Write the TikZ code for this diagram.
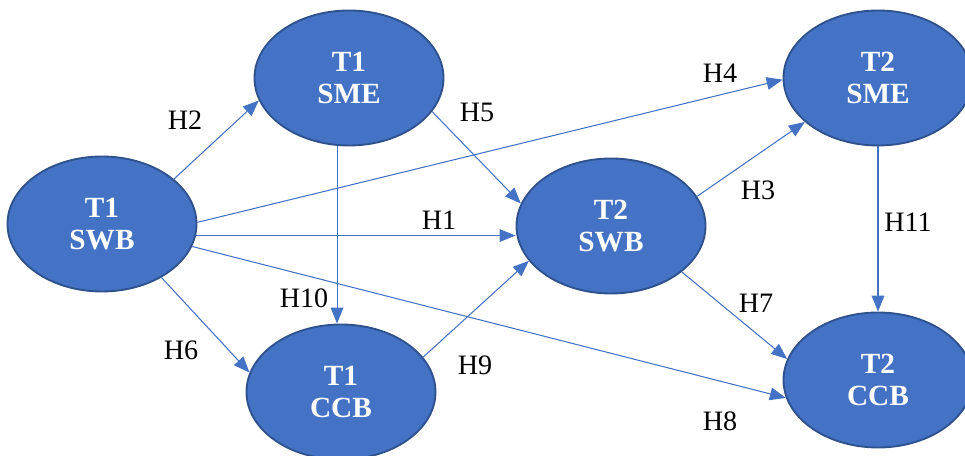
\documentclass[tikz,border=0pt]{standalone}
\usepackage{fontspec}
\setmainfont{Liberation Serif}
\usetikzlibrary{arrows.meta,shapes.geometric}

\definecolor{ofblue}{HTML}{4472C4}
\definecolor{ofedge}{HTML}{2F528F}

\tikzset{
  construct/.style={ellipse, draw=ofedge, line width=1.6pt, fill=ofblue,
    text=white, align=center, inner sep=0pt,
    minimum width=5.67cm, minimum height=4.05cm,
    font=\fontsize{25}{28}\selectfont\bfseries},
  hyp/.style={draw=ofblue, line width=0.9pt,
    -{Triangle[length=0.48cm,width=0.38cm]}},
  hlabel/.style={font=\fontsize{24}{28}\selectfont}
}

\begin{document}
\begin{tikzpicture}[x=0.03cm, y=0.03cm]
    \useasboundingbox (0,0) rectangle (965,456);

    % constructs
    \node[construct] (swbA) at (102,232) {T1\\SWB};
    \node[construct] (smeA) at (349,378) {T1\\SME};
    \node[construct] (ccbA) at (341,64) {T1\\CCB};
    \node[construct] (swbB) at (611,230) {T2\\SWB};
    \node[construct] (smeB) at (878,378) {T2\\SME};
    \node[construct] (ccbB) at (878,76) {T2\\CCB};

    % paths
    \draw[hyp] (swbA.353) -- (swbA.353 -| swbB.west);
    \draw[hyp] (swbA.32) -- (smeA.194);
    \draw[hyp] (swbB.19) -- (smeB.211);
    \draw[hyp] (swbA.1) -- (smeB.181);
    \draw[hyp] (smeA.338) -- (swbB.166);
    \draw[hyp] (swbA.318) -- (ccbA.168);
    \draw[hyp] (swbB.327) -- (ccbB.167);
    \draw[hyp] (swbA.346) -- (ccbB.191);
    \draw[hyp] (ccbA.23) -- (swbB.203);
    \draw[hyp] (smeA.260) -- (smeA.260 |- ccbA.north);
    \draw[hyp] (smeB.south) -- (ccbB.north);

    % labels
    \node[hlabel] (h1) at (439,236) {H1};
    \node[hlabel] (h2) at (185,336) {H2};
    \node[hlabel] (h3) at (758,266) {H3};
    \node[hlabel] (h4) at (720,383) {H4};
    \node[hlabel] (h5) at (477,344) {H5};
    \node[hlabel] (h6) at (181,106) {H6};
    \node[hlabel] (h7) at (756,153) {H7};
    \node[hlabel] (h8) at (720,35) {H8};
    \node[hlabel] (h9) at (475,91) {H9};
    \node[hlabel] (h10) at (304,158) {H10};
    \node[hlabel] (h11) at (908,234) {H11};
\end{tikzpicture}
\end{document}
